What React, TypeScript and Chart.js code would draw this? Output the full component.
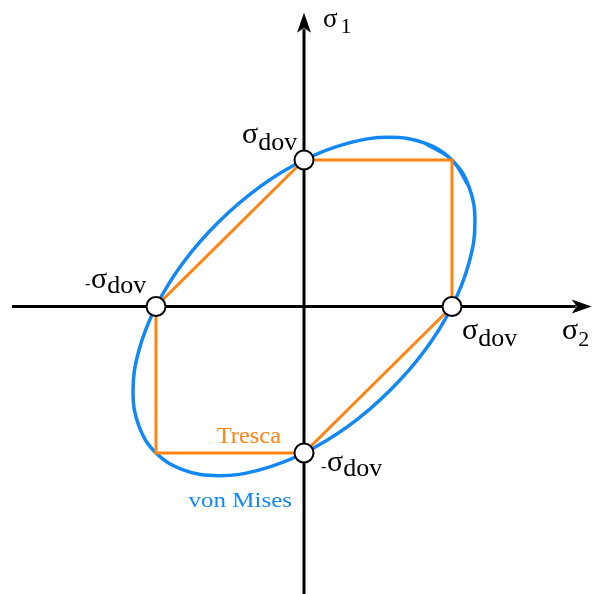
import React, { useEffect, useRef } from "react";
import { Chart, registerables } from "chart.js";

Chart.register(...registerables);

// Yield criteria in the (σ2, σ1) plane, in units of σ_dov
const trescaSigma2 = [1, 1, 0, -1, -1, 0, 1];
const trescaSigma1 = [0, 1, 1, 0, -1, -1, 0];

// von Mises ellipse, points read around the curve (first/last repeat for a closed smooth loop)
const misesSigma2 = [1.115, 1, 0.817, 0.577, 0.299, 0, -0.299, -0.577, -0.817, -1, -1.115, -1.155, -1.115, -1, -0.817, -0.577, -0.299, 0, 0.299, 0.577, 0.817, 1, 1.115, 1.155, 1.115, 1, 0.817];
const misesSigma1 = [0.817, 1, 1.115, 1.155, 1.115, 1, 0.817, 0.577, 0.299, 0, -0.299, -0.577, -0.817, -1, -1.115, -1.155, -1.115, -1, -0.817, -0.577, -0.299, 0, 0.299, 0.577, 0.817, 1, 1.115];

// marked points (σ2, σ1)
const markerSigma2 = [0, 1, -1, 0];
const markerSigma1 = [1, 0, 0, -1];

// axis extents
const sigma2AxisRange = [-1.973, 1.944];
const sigma1AxisRange = [-1.97, 2.005];

// texts
const yieldLabel = ["σ", "dov"];
const sigma2Label = ["σ", "2"];
const sigma1Label = ["σ", "1"];
const trescaName = "Tresca";
const misesName = "von Mises";

const ORANGE = "#FF8412";
const BLUE = "#1188F5";
const SERIF = `"Liberation Serif", "DejaVu Serif", serif`;

function drawScaled(ctx: CanvasRenderingContext2D, text: string, x: number, y: number, size: number, color: string, sx = 1) {
  ctx.save();
  ctx.font = `${size}px ${SERIF}`;
  ctx.fillStyle = color;
  ctx.textAlign = "left";
  ctx.textBaseline = "alphabetic";
  ctx.translate(x, y);
  ctx.scale(sx, 1);
  ctx.fillText(text, 0, 0);
  const w = ctx.measureText(text).width * sx;
  ctx.restore();
  return w;
}

function drawSymbol(
  ctx: CanvasRenderingContext2D,
  x: number,
  y: number,
  main: string,
  sub: string,
  minus: boolean,
  mainSize: number,
  subSize: number,
  subDrop: number,
  gap = 0
) {
  if (minus) {
    drawScaled(ctx, "-", x - 6, y + 1, 16, "#000");
  }
  const w = drawScaled(ctx, main, x, y, mainSize, "#000");
  drawScaled(ctx, sub, x + w + gap, y + subDrop, subSize, "#000");
}

const overlayPlugin = {
  id: "overlay",
  beforeDatasetsDraw(chart: any) {
    const ctx: CanvasRenderingContext2D = chart.ctx;
    const xs = chart.scales.x;
    const ys = chart.scales.y;
    const x0 = xs.getPixelForValue(0);
    const y0 = ys.getPixelForValue(0);
    const xl = xs.getPixelForValue(sigma2AxisRange[0]);
    const xr = xs.getPixelForValue(sigma2AxisRange[1]);
    const yb = ys.getPixelForValue(sigma1AxisRange[0]);
    const yt = ys.getPixelForValue(sigma1AxisRange[1]);
    const headL = 20;
    const headW = 7;
    ctx.save();
    ctx.strokeStyle = "#000";
    ctx.fillStyle = "#000";
    ctx.lineWidth = 3;
    ctx.beginPath();
    ctx.moveTo(xl, y0);
    ctx.lineTo(xr - headL + 4, y0);
    ctx.moveTo(x0, yb);
    ctx.lineTo(x0, yt + headL - 4);
    ctx.stroke();
    // arrow heads
    ctx.beginPath();
    ctx.moveTo(xr, y0);
    ctx.lineTo(xr - headL, y0 - headW);
    ctx.lineTo(xr - headL + 5, y0);
    ctx.lineTo(xr - headL, y0 + headW);
    ctx.closePath();
    ctx.fill();
    ctx.beginPath();
    ctx.moveTo(x0, yt);
    ctx.lineTo(x0 - headW, yt + headL);
    ctx.lineTo(x0, yt + headL - 5);
    ctx.lineTo(x0 + headW, yt + headL);
    ctx.closePath();
    ctx.fill();
    ctx.restore();
  },
  afterDatasetsDraw(chart: any) {
    const ctx: CanvasRenderingContext2D = chart.ctx;
    const xs = chart.scales.x;
    const ys = chart.scales.y;
    const px = (v: number) => xs.getPixelForValue(v);
    const py = (v: number) => ys.getPixelForValue(v);
    const x0 = px(0);
    const y0 = py(0);
    const mS = 30;
    const sS = 26;
    // top: σdov
    drawSymbol(ctx, px(markerSigma2[0]) - 62, py(markerSigma1[0]) - 17, yieldLabel[0], yieldLabel[1], false, mS, sS, 7);
    // right: σdov
    drawSymbol(ctx, px(markerSigma2[1]) + 10, py(markerSigma1[1]) + 32, yieldLabel[0], yieldLabel[1], false, mS, sS, 7);
    // left: -σdov
    drawSymbol(ctx, px(markerSigma2[2]) - 65, py(markerSigma1[2]) - 19, yieldLabel[0], yieldLabel[1], true, mS, sS, 5);
    // bottom: -σdov
    drawSymbol(ctx, px(markerSigma2[3]) + 23, py(markerSigma1[3]) + 18, yieldLabel[0], yieldLabel[1], true, mS, sS, 5);
    // axis names
    drawSymbol(ctx, xs.right - 31, y0 + 32, sigma2Label[0], sigma2Label[1], false, mS, 22, 7);
    drawSymbol(ctx, x0 + 19, ys.top + 27, sigma1Label[0], sigma1Label[1], false, 27, 22, 6, 3);
    // legend texts
    drawScaled(ctx, trescaName, px(-0.59), py(-0.93), 24, ORANGE, 1.02);
    drawScaled(ctx, misesName, px(-0.78), py(-1.37), 21, BLUE, 1.19);
  },
};

export default function App() {
  const ref = useRef<HTMLCanvasElement | null>(null);
  useEffect(() => {
    document.body.style.margin = "0";
    const canvas = ref.current!;
    const chart = new Chart(canvas, {
      type: "scatter",
      data: {
        datasets: [
          {
            label: "markers",
            data: markerSigma2.map((v, i) => ({ x: v, y: markerSigma1[i] })),
            showLine: false,
            pointRadius: 9.5,
            pointHoverRadius: 9.5,
            pointBackgroundColor: "#fff",
            pointBorderColor: "#000",
            pointBorderWidth: 2,
            order: 0,
          },
          {
            label: trescaName,
            data: trescaSigma2.map((v, i) => ({ x: v, y: trescaSigma1[i] })),
            showLine: true,
            borderColor: ORANGE,
            borderWidth: 3,
            pointRadius: 0,
            tension: 0,
            fill: false,
            order: 1,
          },
          {
            label: misesName,
            data: misesSigma2.map((v, i) => ({ x: v, y: misesSigma1[i] })),
            showLine: true,
            borderColor: BLUE,
            borderWidth: 3.5,
            pointRadius: 0,
            tension: 0.4,
            fill: false,
            order: 2,
          },
        ],
      },
      options: {
        animation: false,
        responsive: false,
        devicePixelRatio: 1,
        layout: { padding: 0, autoPadding: false },
        plugins: { legend: { display: false }, tooltip: { enabled: false } },
        events: [],
        scales: {
          x: { type: "linear", display: false, min: -304 / 148, max: 289 / 148 },
          y: { type: "linear", display: false, min: -287.5 / 146.5, max: 306.5 / 146.5 },
        },
      },
      plugins: [overlayPlugin],
    });
    let alive = true;
    if ((document as any).fonts && (document as any).fonts.ready) {
      (document as any).fonts.ready.then(() => {
        if (alive) chart.update();
      });
    }
    return () => {
      alive = false;
      chart.destroy();
    };
  }, []);
  return (
    <div style={{ position: "absolute", left: 0, top: 0, width: 593, height: 594, background: "#fff" }}>
      <canvas ref={ref} width={593} height={594} />
      <span style={{ position: "absolute", left: -9999, top: 0, fontFamily: SERIF }}>σdov</span>
    </div>
  );
}
